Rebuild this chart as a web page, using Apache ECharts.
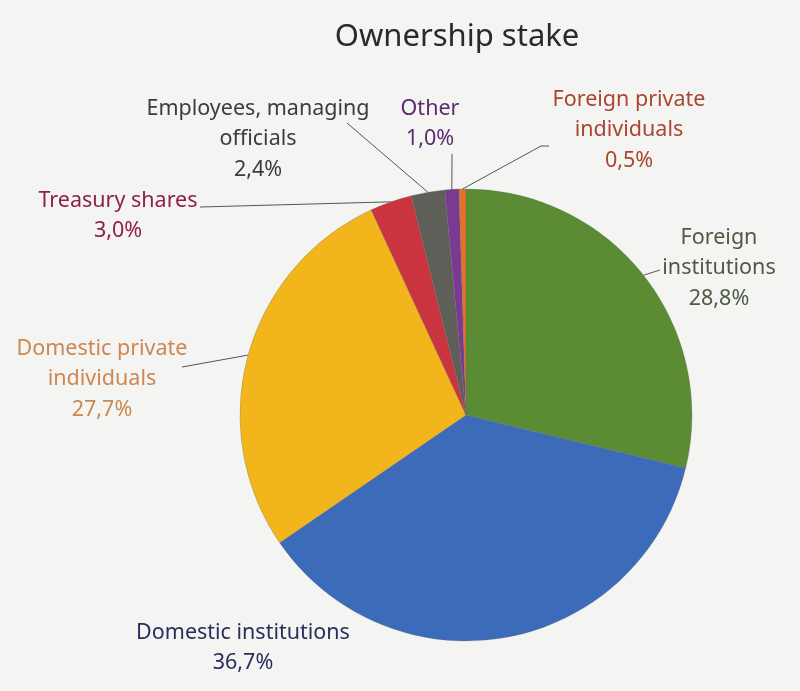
<!DOCTYPE html>
<html>
<head>
<meta charset="utf-8">
<script src="https://cdn.jsdelivr.net/npm/echarts@6/dist/echarts.min.js"></script>
<style>
html,body{margin:0;padding:0;background:#f4f4f2;}
#chart{width:800px;height:691px;}
</style>
</head>
<body>
<div id="chart"></div>
<script>
// Data
const categories = [
  'Foreign\ninstitutions',
  'Domestic institutions',
  'Domestic private\nindividuals',
  'Treasury shares',
  'Employees, managing\nofficials',
  'Other',
  'Foreign private\nindividuals'
];
const values = [28.8, 36.7, 27.7, 3.0, 2.4, 1.0, 0.5];
const titleText = 'Ownership stake';

// Styles
const sliceColors = ['#5b8c33', '#3c6cb9', '#f2b51b', '#c9343f', '#5f5f5a', '#7b3a92', '#e0722c'];
const labelColors = ['#4e5a44', '#2b2e5c', '#cc8752', '#8c2244', '#3c3c3c', '#5d2a70', '#a9462f'];
// label block centres and label-line end points (layout only)
const labelPlaces = [
  {x: 719, y: 268, line: [[660, 270]]},
  {x: 243, y: 648, line: null},
  {x: 102, y: 379, line: [[182, 367]]},
  {x: 118, y: 216, line: [[200, 207]]},
  {x: 258, y: 139, line: [[347, 123]]},
  {x: 430, y: 124, line: [[452, 154]]},
  {x: 629, y: 130, line: [[541, 146], [549, 146]]}
];

const fmt = v => v.toFixed(1).replace('.', ',') + '%';

const chart = echarts.init(document.getElementById('chart'), null, {renderer: 'canvas'});
chart.setOption({
  backgroundColor: '#f4f4f2',
  animation: false,
  title: {
    text: titleText,
    left: 452,
    textAlign: 'center',
    top: 17,
    textStyle: {fontFamily: 'Noto Sans', fontWeight: 'normal', fontSize: 31, color: '#2a2a2a'}
  },
  series: [{
    type: 'pie',
    center: [466, 415],
    radius: 226,
    startAngle: 90,
    clockwise: true,
    avoidLabelOverlap: false,
    itemStyle: {borderColor: '#6a6a66', borderWidth: 0.3},
    label: {
      show: true,
      position: 'outside',
      fontFamily: 'Noto Sans',
      fontSize: 21.5,
      lineHeight: 30.5,
      align: 'center',
      formatter: p => p.name + '\n' + fmt(p.value)
    },
    labelLine: {show: true, lineStyle: {color: '#555', width: 1}},
    labelLayout: function (params) {
      const place = labelPlaces[params.dataIndex];
      const out = {x: place.x, y: place.y, align: 'center', verticalAlign: 'middle'};
      if (place.line && params.labelLinePoints) {
        out.labelLinePoints = [params.labelLinePoints[0]].concat(place.line);
      }
      return out;
    },
    data: categories.map((c, i) => ({
      name: c,
      value: values[i],
      itemStyle: {color: sliceColors[i]},
      label: {color: labelColors[i]},
      labelLine: {show: labelPlaces[i].line !== null}
    }))
  }]
});
</script>
</body>
</html>
